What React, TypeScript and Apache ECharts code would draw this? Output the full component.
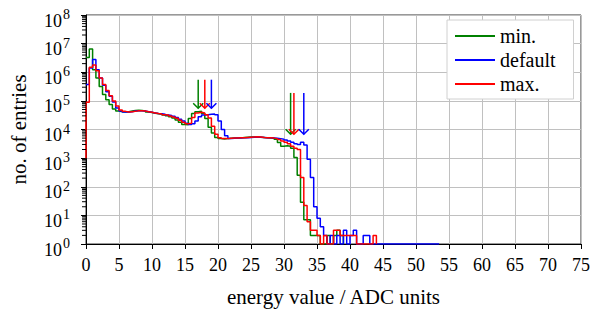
import React, { useEffect, useRef } from 'react';
import * as echarts from 'echarts';

const BIN_WIDTH = 0.5;

// counts per 0.5-wide bin, starting at energy 0
const minCounts = [
  3300000, 6500000, 1230000, 630000, 320000, 166000, 110000, 74000, 52000, 44000,
  42000, 41000, 42000, 44000, 46000, 47000, 46000, 44000, 41000, 39000,
  37000, 35500, 34000, 32000, 30000, 28000, 25000, 21500, 18000, 15000,
  14800, 24000, 36000, 42000, 43000, 36000, 24000, 12000, 7600, 5250,
  4800, 4700, 4800, 4900, 5000, 5000, 5100, 5250, 5400, 5500,
  5500, 5500, 5400, 5250, 5100, 5000, 4900, 4600, 3500, 2600,
  2700, 2600, 2200, 1050, 250, 29, 7, 7, 2, 2,
  2, 1, 1, 2, 1, 2, 3, 2,
];

const defaultCounts = [
  370000, 1400000, 2800000, 1230000, 630000, 350000, 210000, 145000, 91000, 56000,
  44000, 41000, 41000, 42000, 44000, 45000, 45000, 44000, 42000, 40000,
  38000, 36000, 35500, 34000, 32000, 31000, 29000, 26000, 23000, 20000,
  16600, 15000, 16000, 20000, 28000, 32000, 33000, 34000, 35000, 33000,
  20000, 10000, 6000, 4800, 4900, 5000, 5000, 5100, 5200, 5300,
  5400, 5500, 5400, 5300, 5200, 5100, 5000, 4900, 4800, 4600,
  4300, 4000, 3550, 3200, 3000, 3600, 2900, 920, 210, 20,
  8, 4, 2, 1, 2, 1, 2, 1, 3, 1,
  2, 3, 1, 1, 2, 2, 1, 1, 1, 1,
  1, 1, 1, 1, 1, 1, 1, 1, 1, 1,
  1, 1, 1, 1, 1, 1, 1,
];

const maxCounts = [
  89000, 1500000, 1800000, 1120000, 630000, 370000, 230000, 150000, 100000, 66000,
  48000, 43000, 41000, 42000, 43000, 45000, 45000, 44000, 42000, 40000,
  38000, 36000, 35000, 33000, 32000, 29500, 27500, 24500, 21000, 18000,
  16000, 16500, 26000, 38000, 40000, 38000, 33000, 25000, 13000, 6800,
  5100, 4800, 4800, 4900, 5000, 5000, 5100, 5200, 5300, 5400,
  5500, 5600, 5500, 5300, 5200, 5100, 5000, 4800, 4500, 4000,
  3550, 3200, 2600, 2200, 2000, 210, 22, 6, 3, 3,
  2, 1, 2, 1, 1, 3, 3, 2, 2, 2,
  2, 2, 1, 1, 1, 1, 1, 2,
];
const maxLeadIn = 1000;

// arrow markers: energy positions, top and tip heights
const minArrowX = [17, 31];
const defaultArrowX = [19, 33];
const maxArrowX = [18, 31.5];
const arrowTop = [550000, 190000];
const arrowTip = [55000, 6800];

const seriesNames = ['min.', 'default', 'max.'];
const seriesColors = ['#008000', '#0000ff', '#ff0000'];

const xMin = 0;
const xMax = 75;
const xInterval = 5;
const yMin = 1;
const yMax = 1e8;
const minorTickValues: number[] = [];
for (let k = 0; k < 8; k++) {
  for (let m = 2; m <= 9; m++) minorTickValues.push(m * Math.pow(10, k));
}

const FONT = "'Liberation Serif', 'DejaVu Serif', serif";

function toSteps(counts: number[], leadIn?: number) {
  const pts: number[][] = [];
  if (leadIn !== undefined) pts.push([0, leadIn]);
  counts.forEach((c, i) => pts.push([i * BIN_WIDTH, c]));
  pts.push([counts.length * BIN_WIDTH, 1]);
  return pts;
}

function arrowSeries(name: string, color: string, xs: number[]) {
  return {
    type: 'custom',
    name: name + ' marker',
    silent: true,
    z: 5,
    data: xs.map((x, i) => [x, arrowTop[i], arrowTip[i]]),
    encode: { x: 0, y: [1, 2] },
    renderItem: (_p: any, api: any) => {
      const x = api.value(0);
      const a = api.coord([x, api.value(1)]);
      const b = api.coord([x, api.value(2)]);
      const st = { stroke: color, lineWidth: 1.5, fill: 'none' };
      return {
        type: 'group',
        children: [
          { type: 'line', shape: { x1: a[0], y1: a[1], x2: b[0], y2: b[1] }, style: st },
          {
            type: 'polyline',
            shape: { points: [[b[0] - 5, b[1] - 5], [b[0], b[1]], [b[0] + 5, b[1] - 5]] },
            style: st,
          },
        ],
      };
    },
  };
}

export default function App() {
  const ref = useRef<HTMLDivElement>(null);
  useEffect(() => {
    if (!ref.current) return;
    const chart = echarts.init(ref.current, null, { renderer: 'svg' });
    const lineSeries = [minCounts, defaultCounts, maxCounts].map((counts, i) => ({
      type: 'line',
      name: seriesNames[i],
      step: 'end',
      showSymbol: false,
      symbol: 'none',
      data: toSteps(counts, i === 2 ? maxLeadIn : undefined),
      lineStyle: { color: seriesColors[i], width: 1.5 },
      itemStyle: { color: seriesColors[i] },
      z: 3 + i,
    }));
    chart.setOption({
      animation: false,
      textStyle: { fontFamily: FONT },
      grid: { left: 84, right: 9, top: 15, bottom: 67, show: true, borderColor: '#333', borderWidth: 1 },
      legend: {
        data: seriesNames,
        orient: 'vertical',
        left: 447,
        top: 20,
        icon: 'rect',
        itemWidth: 40,
        itemHeight: 2,
        itemGap: 4,
        padding: [6, 18, 5, 8],
        backgroundColor: '#fff',
        borderColor: '#d0d0d0',
        borderWidth: 1,
        textStyle: { fontFamily: FONT, fontSize: 20, color: '#000' },
      },
      xAxis: {
        type: 'value',
        min: xMin,
        max: xMax,
        interval: xInterval,
        name: 'energy value / ADC units',
        nameLocation: 'middle',
        nameGap: 42,
        nameTextStyle: { fontFamily: FONT, fontSize: 21, color: '#000' },
        axisLine: { show: true, lineStyle: { color: '#000', width: 1 } },
        axisTick: { show: true, inside: false, length: 5, lineStyle: { color: '#000' } },
        axisLabel: { fontFamily: FONT, fontSize: 18, color: '#000', margin: 12 },
        splitLine: { show: true, lineStyle: { color: '#c0c0c0', width: 1 } },
      },
      yAxis: {
        type: 'log',
        logBase: 10,
        min: yMin,
        max: yMax,
        name: 'no. of entries',
        nameLocation: 'middle',
        nameGap: 57,
        nameTextStyle: { fontFamily: FONT, fontSize: 21, color: '#000' },
        axisLine: { show: true, lineStyle: { color: '#000', width: 1 } },
        axisTick: { show: true, inside: false, length: 5, lineStyle: { color: '#000' } },
        splitLine: { show: true, lineStyle: { color: '#c0c0c0', width: 1 } },
        axisLabel: {
          margin: 16,
          padding: [7, 0, 0, 0],
          fontFamily: FONT,
          fontSize: 18,
          color: '#000',
          formatter: (v: number) => `{b|10}{s|${Math.round(Math.log10(v))}}`,
          rich: {
            b: { fontFamily: FONT, fontSize: 18, color: '#000', verticalAlign: 'bottom' },
            s: { fontFamily: FONT, fontSize: 14, color: '#000', verticalAlign: 'top', padding: [0, 0, 8, 1] },
          },
        },
      },
      series: [
        ...lineSeries,
        arrowSeries(seriesNames[0], seriesColors[0], minArrowX),
        arrowSeries(seriesNames[2], seriesColors[2], maxArrowX),
        arrowSeries(seriesNames[1], seriesColors[1], defaultArrowX),
        {
          type: 'custom',
          name: 'minor ticks',
          silent: true,
          z: 6,
          data: minorTickValues.map((v) => [xMin, v]),
          encode: { x: 0, y: 1 },
          renderItem: (_p: any, api: any) => {
            const p = api.coord([api.value(0), api.value(1)]);
            return {
              type: 'line',
              shape: { x1: p[0] - 4, y1: p[1], x2: p[0], y2: p[1] },
              style: { stroke: '#000', lineWidth: 1 },
            };
          },
        },
      ],
    });
    return () => chart.dispose();
  }, []);
  return <div ref={ref} style={{ position: 'absolute', left: 0, top: 0, width: 593, height: 312 }} />;
}
